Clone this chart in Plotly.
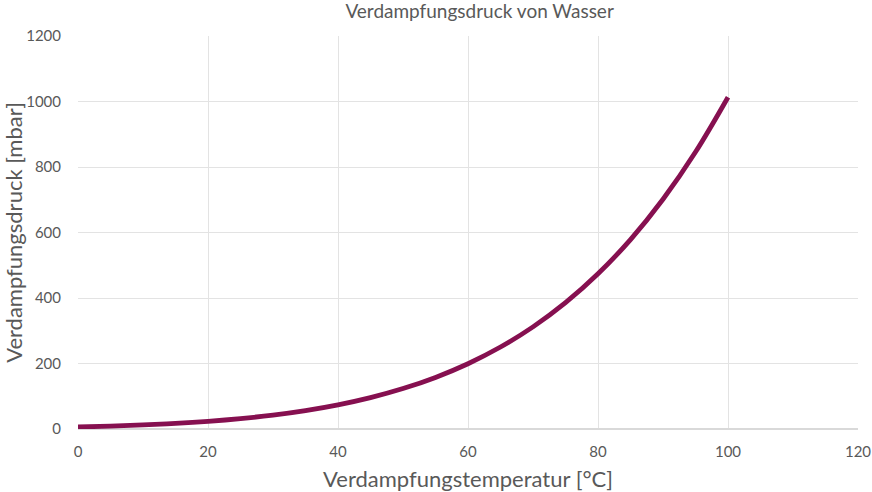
import plotly.graph_objects as go

temp_c = [0, 5, 10, 15, 20, 25, 30, 35, 40, 45, 50, 55, 60, 65, 70, 75, 80, 85, 90, 95, 100]
pressure_mbar = [6.1, 8.7, 12.3, 17.0, 23.4, 31.7, 42.5, 56.3, 73.8, 95.9, 123.5, 157.6, 199.4, 250.3, 311.8, 385.7, 473.9, 578.3, 701.4, 845.6, 1013.0]

font_family = "Lato, Open Sans, sans-serif"
text_color = "#595959"
grid_color = "#e3e3e3"

fig = go.Figure()
fig.add_trace(go.Scatter(
    x=temp_c, y=pressure_mbar, mode="lines",
    line=dict(color="#861050", width=4.8, shape="spline"),
    showlegend=False,
))

fig.update_layout(
    width=872, height=492,
    paper_bgcolor="white", plot_bgcolor="white",
    margin=dict(l=78, r=14, t=36, b=63),
    title=dict(text="Verdampfungsdruck von Wasser", x=0.55, xanchor="center",
               y=0.99, yanchor="top",
               font=dict(family=font_family, size=19, color=text_color)),
    font=dict(family=font_family, color=text_color),
)
fig.update_xaxes(
    range=[0, 120], tickvals=[0, 20, 40, 60, 80, 100, 120],
    showgrid=True, gridcolor=grid_color, gridwidth=1,
    zeroline=False, showline=False, ticks="", automargin=False,
    ticklabelstandoff=12,
    tickfont=dict(size=15, color=text_color),
    title=dict(text="Verdampfungstemperatur [°C]", standoff=12,
               font=dict(size=22, color=text_color)),
)
fig.update_yaxes(
    range=[0, 1200], tickvals=[0, 200, 400, 600, 800, 1000, 1200],
    showgrid=True, gridcolor=grid_color, gridwidth=1,
    zeroline=True, zerolinecolor="#d9d9d9", zerolinewidth=1.5,
    showline=False, ticks="", ticklabelstandoff=16, automargin=False,
    tickfont=dict(size=15, color=text_color),
    title=dict(text="Verdampfungsdruck [mbar]", standoff=10,
               font=dict(size=22, color=text_color)),
)

fig.write_html("out.html", config={"displayModeBar": False},
               post_script="document.body.style.margin='0';")
